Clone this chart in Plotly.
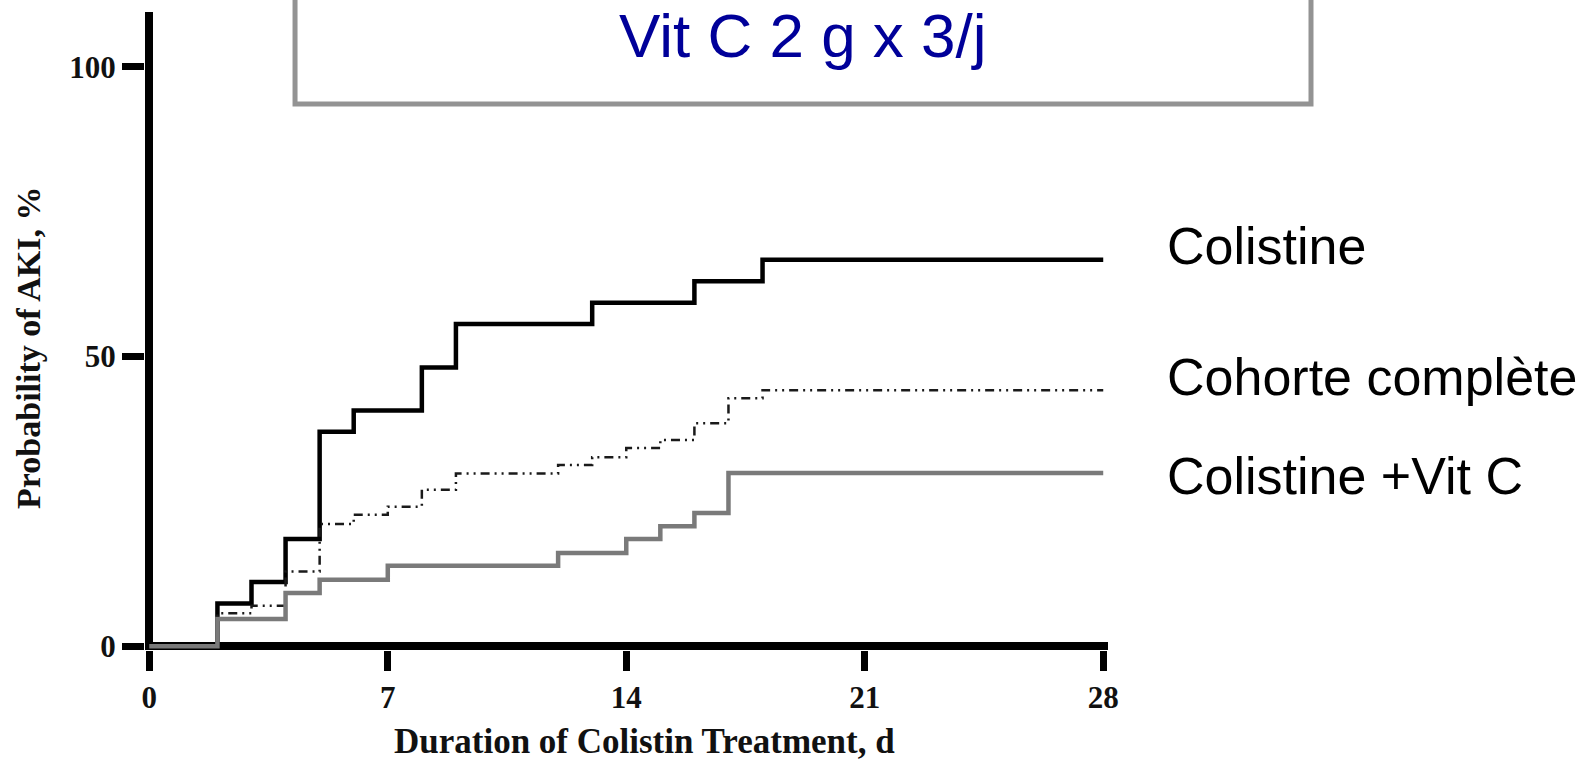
import plotly.graph_objects as go

# Cumulative probability of AKI (%) by day of colistin treatment (step curves)
days_colistine = [0, 2, 3, 4, 5, 6, 8, 9, 13, 16, 18, 28]
aki_colistine = [0, 7.4, 11.1, 18.5, 37.0, 40.7, 48.1, 55.6, 59.3, 63.0, 66.7, 66.7]

days_cohort = [0, 2, 3, 4, 5, 6, 7, 8, 9, 12, 13, 14, 15, 16, 17, 18, 28]
aki_cohort = [0, 5.7, 7.0, 12.9, 21.1, 22.7, 24.1, 27.0, 29.8, 31.3, 32.6, 34.2, 35.6, 38.5, 42.8, 44.2, 44.2]

days_vitc = [0, 2, 4, 5, 7, 12, 14, 15, 16, 17, 28]
aki_vitc = [0, 4.7, 9.2, 11.5, 13.9, 16.1, 18.5, 20.7, 23.0, 29.9, 29.9]

x_ticks = [0, 7, 14, 21, 28]
y_ticks = [0, 50, 100]
series_labels = ["Colistine", "Cohorte complète", "Colistine +Vit C"]
title_text = "Vit C 2 g x 3/j"
x_title = "Duration of Colistin Treatment, d"
y_title = "Probability of AKI, %"

SERIF = "Liberation Serif, Times New Roman, serif"
SANS = "Liberation Sans, Arial, sans-serif"

fig = go.Figure()

fig.add_trace(go.Scatter(
    x=days_colistine, y=aki_colistine, mode="lines", line_shape="hv",
    line=dict(color="#000000", width=4.5), name=series_labels[0],
))
fig.add_trace(go.Scatter(
    x=days_cohort, y=aki_cohort, mode="lines", line_shape="hv",
    line=dict(color="#1a1a1a", width=2.5, dash="9px,5px,2px,5px,2px,5px"),
    name=series_labels[1],
))
fig.add_trace(go.Scatter(
    x=days_vitc, y=aki_vitc, mode="lines", line_shape="hv",
    line=dict(color="#7a7a7a", width=4.5), name=series_labels[2],
))

tick_font = dict(family=SERIF, size=31, color="#111111", weight="bold")

fig.update_xaxes(
    range=[-0.126, 28.14], showgrid=False, showline=False,
    zeroline=True, zerolinewidth=8, zerolinecolor="#000000",
    ticks="outside", ticklen=20, tickwidth=7, tickcolor="#000000",
    tickmode="array", tickvals=x_ticks, ticktext=[str(v) for v in x_ticks],
    tickfont=tick_font, fixedrange=True,
)
fig.update_yaxes(
    range=[-0.64, 109.45], showgrid=False, showline=False,
    zeroline=True, zerolinewidth=8, zerolinecolor="#000000",
    ticks="outside", ticklen=22, tickwidth=7, tickcolor="#000000",
    tickmode="array", tickvals=y_ticks, ticktext=[str(v) for v in y_ticks],
    tickfont=tick_font, fixedrange=True,
)

# Series names to the right of the curve ends
label_offsets = [2.3, 2.2, -0.6]
ends = [aki_colistine[-1], aki_cohort[-1], aki_vitc[-1]]
annotations = []
for name, end, off in zip(series_labels, ends, label_offsets):
    annotations.append(dict(
        text=name, xref="paper", yref="y", x=1.059, y=end + off,
        xanchor="left", yanchor="middle", showarrow=False,
        font=dict(family=SANS, size=52, color="#000000"),
    ))

# Axis titles
annotations.append(dict(
    text=x_title, xref="paper", yref="paper", x=0.519, y=-0.143,
    xanchor="center", yanchor="middle", showarrow=False,
    font=dict(family=SERIF, size=35, color="#111111", weight="bold"),
))
annotations.append(dict(
    text=y_title, xref="paper", yref="paper", x=-0.1205, y=0.4734,
    xanchor="center", yanchor="middle", showarrow=False, textangle=-90,
    font=dict(family=SERIF, size=34, color="#111111", weight="bold"),
))

# Heading inside the framed box
annotations.append(dict(
    text=title_text, xref="paper", yref="paper", x=0.6828, y=0.9624,
    xanchor="center", yanchor="middle", showarrow=False,
    font=dict(family=SANS, size=62, color="#000099"),
))

fig.update_layout(
    width=1596, height=762,
    margin=dict(l=145, r=488, t=12, b=112, autoexpand=False),
    paper_bgcolor="#ffffff", plot_bgcolor="#ffffff",
    showlegend=False,
    annotations=annotations,
    shapes=[dict(
        type="rect", xref="paper", yref="paper",
        x0=0.1558, x1=1.2108, y0=0.8558, y1=1.05,
        line=dict(color="#939393", width=5), fillcolor="rgba(0,0,0,0)",
        layer="above",
    )],
)

fig.write_html("out.html")
